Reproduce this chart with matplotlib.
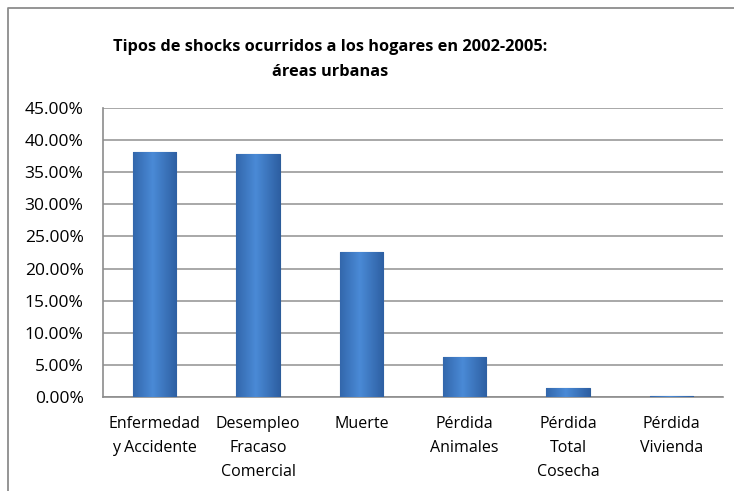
import matplotlib
matplotlib.use("Agg")
import matplotlib.pyplot as plt
import numpy as np
from matplotlib.lines import Line2D
from matplotlib.ticker import FuncFormatter

plt.rcParams["font.family"] = ["Open Sans", "DejaVu Sans"]

categories = [
    "Enfermedad\ny Accidente",
    "Desempleo\nFracaso\nComercial",
    "Muerte",
    "Pérdida\nAnimales",
    "Pérdida\nTotal\nCosecha",
    "Pérdida\nVivienda",
]
values = [38.1, 37.85, 22.5, 6.2, 1.35, 0.1]
yticks = [0, 5, 10, 15, 20, 25, 30, 35, 40, 45]
title = "Tipos de shocks ocurridos a los hogares en 2002-2005:\náreas urbanas"

fig = plt.figure(figsize=(7.34, 4.91), dpi=100)
ax = fig.add_axes([103 / 734, 94 / 491, 620 / 734, 289 / 491])

x = np.arange(len(categories))
bars = ax.bar(x, values, width=0.42, color="#3D7BC8", edgecolor="#2C5C9A",
              linewidth=0.8, zorder=3)

# horizontal shading on each bar, lighter in the middle
grad = np.linspace(0, 1, 64)
shade = 1 - np.abs(grad - 0.45) * 1.6
cmap = matplotlib.colors.LinearSegmentedColormap.from_list(
    "bar", ["#2A5A9C", "#4A8AD6"])
for b in bars:
    x0, w, h = b.get_x(), b.get_width(), b.get_height()
    if h <= 0:
        continue
    im = ax.imshow(shade[np.newaxis, :], cmap=cmap, aspect="auto",
                   extent=[x0, x0 + w, 0, h], zorder=3.5, vmin=0, vmax=1)
    im.set_clip_path(b)

ax.set_xlim(-0.5, len(categories) - 0.5)
ax.set_ylim(0, 45)
ax.set_yticks(yticks)
ax.yaxis.set_major_formatter(FuncFormatter(lambda v, p: f"{v:.2f}%"))
ax.set_xticks(x)
ax.set_xticklabels(categories, linespacing=1.65)
ax.tick_params(axis="y", length=0, pad=14, labelsize=12.5, labelcolor="#000000")
ax.tick_params(axis="x", length=0, pad=14, labelsize=11.5, labelcolor="#000000")
ax.grid(axis="y", color="#9A9A9A", linewidth=1.2, zorder=0)
for side in ["top", "right"]:
    ax.spines[side].set_visible(False)
ax.spines["left"].set_color("#8C8C8C")
ax.spines["bottom"].set_color("#8C8C8C")
ax.spines["left"].set_linewidth(1.2)
ax.spines["bottom"].set_linewidth(1.2)

fig.text(330 / 734, 1 - 60 / 491, title, ha="center", va="center",
         fontsize=11.8, fontweight="bold", linespacing=1.75)

# outer chart frame (left and top edges visible)
fig.add_artist(Line2D([8 / 734, 8 / 734, 1.0], [0.0, 1 - 8 / 491, 1 - 8 / 491],
                      transform=fig.transFigure, color="#8C8C8C", linewidth=1.3))

fig.savefig("out.png", dpi=100)
